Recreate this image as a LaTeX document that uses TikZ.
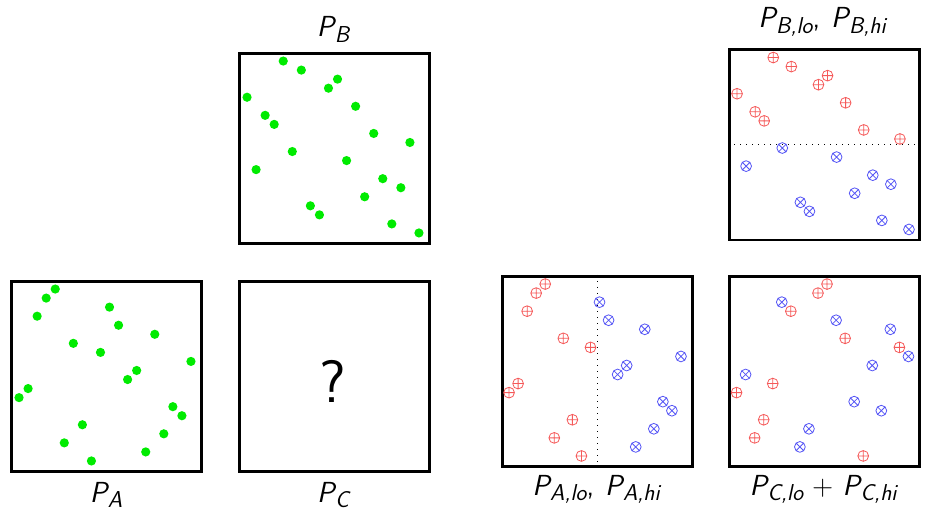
\documentclass[tikz,border=0pt]{standalone}
\newcommand\pv[1]{{\itshape P\kern0.5bp\raisebox{-5.5bp}{\fontsize{23bp}{23bp}\selectfont #1}}}
\definecolor{gdot}{RGB}{0,235,0}
\definecolor{rcirc}{RGB}{245,90,90}
\definecolor{bcirc}{RGB}{85,85,245}
\tikzset{
  panel/.style={draw=black, line width=2.7bp, minimum width=190bp, minimum height=190bp, inner sep=0pt, anchor=north west},
  lbl/.style={font=\fontsize{29bp}{32bp}\selectfont\sffamily, inner sep=0pt, anchor=base},
  qmark/.style={font=\fontsize{60bp}{60bp}\selectfont\sffamily, inner sep=0pt, anchor=base},
  splitline/.style={line width=1bp, dash pattern=on 1bp off 5bp},
  oplus/.pic={\draw[rcirc, line width=0.8bp] (0,0) circle[radius=5.4bp] (-5.4bp,0) -- (5.4bp,0) (0,-5.4bp) -- (0,5.4bp);},
  otimes/.pic={\draw[bcirc, line width=0.8bp] (0,0) circle[radius=5.4bp] (-3.8bp,-3.8bp) -- (3.8bp,3.8bp) (-3.8bp,3.8bp) -- (3.8bp,-3.8bp);}
}
\newcommand\pp{9.048}
\begin{document}
\begin{tikzpicture}[x=1bp,y=-1bp]
\useasboundingbox (0,0) rectangle (925,513);
% panels
\node[panel] (boxA) at (10,280) {};
\node[panel] (boxB) at (238,52) {};
\node[panel] (boxC) at (238,280) {};
\node[panel] (boxAs) at (501,275) {};
\node[panel] (boxBs) at (728,48.5) {};
\node[panel] (boxCs) at (728,275) {};
% split lines
\draw[splitline] (boxAs.north) -- (boxAs.south);
\draw[splitline] (boxBs.west) -- (boxBs.east);
% green points A
\foreach \i/\j in {5/1,4/2,11/3,3/4,12/5,16/6,7/7,10/8,20/9,14/10,13/11,2/12,1/13,18/14,19/15,8/16,17/17,6/18,15/19,9/20}
  \fill[gdot] (10+\i*\pp, 280+\j*\pp) circle[radius=4.6bp];
% green points B
\foreach \i/\j in {5/1,7/2,11/3,10/4,1/5,13/6,3/7,4/8,15/9,19/10,6/11,12/12,2/13,16/14,18/15,14/16,8/17,9/18,17/19,20/20}
  \fill[gdot] (238+\i*\pp, 52+\j*\pp) circle[radius=4.6bp];
% A split
\foreach \i/\j in {5/1,4/2,3/4,7/7,10/8,2/12,1/13,8/16,6/18,9/20}
  \pic at (500+\i*\pp, 275+\j*\pp) {oplus};
\foreach \i/\j in {11/3,12/5,16/6,20/9,14/10,13/11,18/14,19/15,17/17,15/19}
  \pic at (500+\i*\pp, 275+\j*\pp) {otimes};
% B split
\foreach \i/\j in {5/1,7/2,11/3,10/4,1/5,13/6,3/7,4/8,15/9,19/10}
  \pic at (728+\i*\pp, 48.5+\j*\pp) {oplus};
\foreach \i/\j in {6/11,12/12,2/13,16/14,18/15,14/16,8/17,9/18,17/19,20/20}
  \pic at (728+\i*\pp, 48.5+\j*\pp) {otimes};
% C split
\foreach \i/\j in {11/1,10/2,7/4,13/7,19/8,5/12,1/13,4/16,3/18,15/20}
  \pic at (727.5+\i*\pp, 275+\j*\pp) {oplus};
\foreach \i/\j in {6/3,12/5,18/6,20/9,16/10,2/11,14/14,17/15,9/17,8/19}
  \pic at (727.5+\i*\pp, 275+\j*\pp) {otimes};
% question mark
\node[qmark] (q) at (333,402) {?};
% labels
\node[lbl] (lA) at (106,502) {\pv{A}};
\node[lbl] (lB) at (333,37) {\pv{B}};
\node[lbl] (lC) at (333,502) {\pv{C}};
\node[lbl] (lAs) at (596,495) {\pv{A,lo},\kern2bp{} \pv{A,hi}};
\node[lbl] (lBs) at (822,28) {\pv{B,lo},\kern2bp{} \pv{B,hi}};
\node[lbl] (lCs) at (823,495) {\pv{C,lo} + \pv{C,hi}};
\end{tikzpicture}
\end{document}
